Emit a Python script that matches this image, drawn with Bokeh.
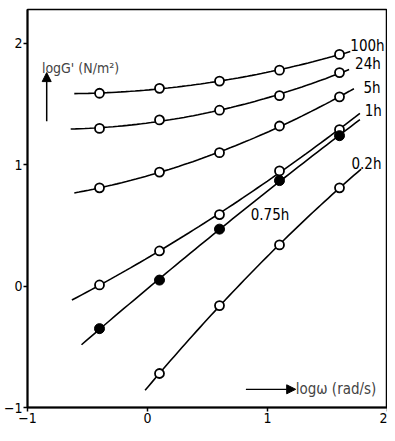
import numpy as np
from bokeh.plotting import figure
from bokeh.models import FixedTicker, Label, Arrow, NormalHead
from bokeh.embed import file_html
from bokeh.resources import INLINE

# ---- data ----
x_pts = [-0.4, 0.1, 0.6, 1.1, 1.6]
g_100h = [1.59, 1.63, 1.69, 1.78, 1.91]
g_24h = [1.30, 1.37, 1.45, 1.57, 1.76]
g_5h = [0.81, 0.94, 1.10, 1.32, 1.56]
g_1h = [0.01, 0.29, 0.59, 0.95, 1.29]
g_075h = [-0.35, 0.05, 0.47, 0.87, 1.24]
x_02h = [0.1, 0.6, 1.1, 1.6]
g_02h = [-0.72, -0.16, 0.34, 0.81]

# fitted curve extents (x start, x end) for each series
curve_100h = (-0.61, 1.69)
curve_24h = (-0.64, 1.68)
curve_5h = (-0.61, 1.72)
curve_1h = (-0.63, 1.77)
curve_075h = (-0.55, 1.77)
curve_02h = (-0.02, 1.78)

series_labels = ["100h", "24h", "5h", "1h", "0.75h", "0.2h"]
label_x = [1.69, 1.73, 1.80, 1.81, 0.86, 1.70]
label_y = [1.98, 1.83, 1.63, 1.44, 0.59, 1.01]

x_ticks = [-1, 0, 1, 2]
y_ticks = [-1, 0, 1, 2]

FONT = "DejaVu Sans Condensed"

p = figure(width=387, height=425, x_range=(-1, 2), y_range=(-1, 2.28),
           output_backend="svg", toolbar_location=None,
           min_border_left=20, min_border_right=0, min_border_top=9, min_border_bottom=0)
p.grid.visible = False
p.background_fill_color = "white"
p.border_fill_color = "white"
p.outline_line_color = "black"
p.outline_line_width = 1.5

for ax, ticks in ((p.xaxis[0], x_ticks), (p.yaxis[0], y_ticks)):
    ax.ticker = FixedTicker(ticks=ticks)
    ax.axis_line_width = 2
    ax.axis_line_color = "black"
    ax.major_tick_line_width = 1.5
    ax.major_tick_out = 4
    ax.major_tick_in = 0
    ax.minor_tick_line_color = None
    ax.major_label_text_font = FONT
    ax.major_label_text_font_size = "14px"
    ax.major_label_text_color = "black"
    ax.major_label_standoff = 1

def draw_curve(xs, ys, extent, filled=False):
    c = np.polyfit(xs, ys, 2)
    xx = np.linspace(extent[0], extent[1], 60)
    p.line(xx, np.polyval(c, xx), line_color="black", line_width=1.6)
    if filled:
        p.scatter(xs, ys, size=10, marker="circle", fill_color="black", line_color="black")
    else:
        p.scatter(xs, ys, size=9, marker="circle", fill_color="white",
                  line_color="black", line_width=1.8)

draw_curve(x_pts, g_100h, curve_100h)
draw_curve(x_pts, g_24h, curve_24h)
draw_curve(x_pts, g_5h, curve_5h)
draw_curve(x_pts, g_1h, curve_1h)
draw_curve(x_pts, g_075h, curve_075h, filled=True)
draw_curve(x_02h, g_02h, curve_02h)

for t, lx, ly in zip(series_labels, label_x, label_y):
    p.add_layout(Label(x=lx, y=ly, text=t, text_font=FONT, text_font_size="15px",
                       text_baseline="middle", text_align="left", text_color="black"))

# axis titles with arrows
p.add_layout(Arrow(x_start=-0.84, y_start=1.36, x_end=-0.84, y_end=1.76,
                   line_width=1.5, line_color="black",
                   end=NormalHead(size=9, fill_color="black", line_color="black")))
p.add_layout(Label(x=-0.88, y=1.80, text="logG' (N/m²)", text_font=FONT,
                   text_font_size="14px", text_baseline="middle", text_align="left"))

p.add_layout(Arrow(x_start=0.82, y_start=-0.85, x_end=1.235, y_end=-0.85,
                   line_width=1.2, line_color="black",
                   end=NormalHead(size=9, fill_color="black", line_color="black")))
p.add_layout(Label(x=1.235, y=-0.85, text="logω (rad/s)", text_font=FONT,
                   text_font_size="15px", text_baseline="middle", text_align="left"))

open("out.html", "w").write(file_html(p, INLINE))
